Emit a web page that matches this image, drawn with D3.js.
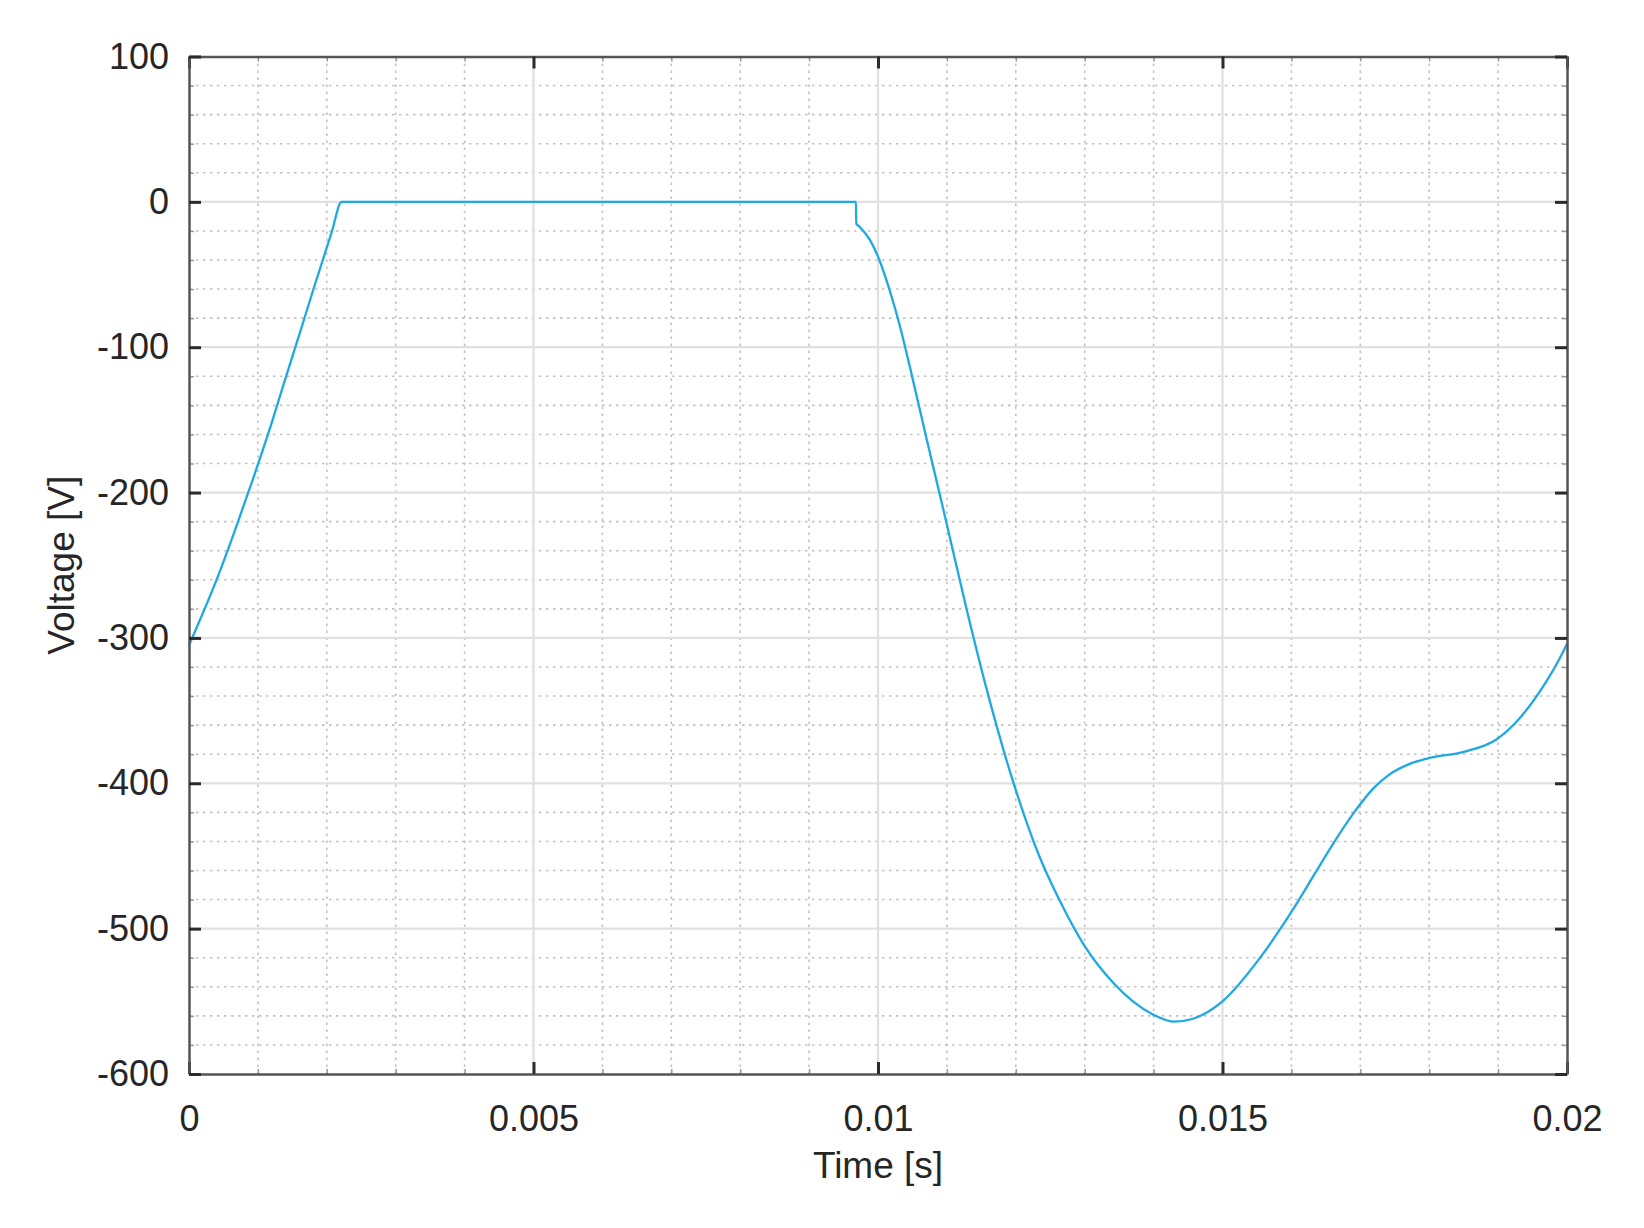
<!DOCTYPE html>
<html>
<head>
<meta charset="utf-8">
<script src="https://cdn.jsdelivr.net/npm/d3@7"></script>
<style>
  body { margin: 0; background: #fff; }
  text { font-family: "Liberation Sans", Arial, Helvetica, sans-serif; fill: #262626; }
  .grid-major line { stroke: #e0e0e0; stroke-width: 2.2; }
  .grid-minor line { stroke: #c2c2c2; stroke-width: 1.6; stroke-dasharray: 2.5,4.5; }
  .axis .domain { stroke: #555; stroke-width: 2.5; }
  .axis .tick line { stroke: #2b2b2b; stroke-width: 3; }
  .minor-ticks .tick line { stroke: #9a9a9a; stroke-width: 1.5; }
  .minor-ticks .domain { display: none; }
</style>
</head>
<body>
<script>
// time [s] and voltage [V]
const time = [
  0, 0.000425, 0.000667, 0.000933, 0.0012, 0.00139, 0.00161, 0.0018, 0.00207, 0.002215,
  0.00968, 0.009685, 0.00973, 0.00988, 0.01002, 0.01017, 0.01031, 0.01046, 0.0107, 0.01096,
  0.01128, 0.01157, 0.011955, 0.01234, 0.01263, 0.013, 0.01341, 0.0137, 0.01399, 0.0143,
  0.01457, 0.015, 0.01553, 0.01587, 0.01606, 0.016355, 0.0166, 0.01691, 0.0172, 0.01742,
  0.0177, 0.01797, 0.01853, 0.01897, 0.01926, 0.01959, 0.01996, 0.02
];
const voltage = [
  -305, -257, -226, -190, -152, -123, -90, -61, -21, 0,
  0, -15, -17, -26, -40, -61, -84, -113, -162, -214,
  -279, -334, -398, -450, -480, -512, -537, -550, -559, -564,
  -562, -550, -521, -498, -484, -461, -442, -420, -403, -394,
  -387, -383, -378, -370, -358, -338, -308, -304
];

const xTicks = [0, 0.005, 0.01, 0.015, 0.02];
const xTickLabels = ["0", "0.005", "0.01", "0.015", "0.02"];
const yTicks = [-600, -500, -400, -300, -200, -100, 0, 100];
const xMinorStep = 0.001;
const yMinorStep = 20;

const [width, height] = [1644, 1228];
const margin = { top: 56.5, right: 77, bottom: 154, left: 189 };
const innerW = width - margin.left - margin.right;
const innerH = height - margin.top - margin.bottom;

const x = d3.scaleLinear().domain([0, 0.02]).range([0, innerW]);
const y = d3.scaleLinear().domain([-600, 100]).range([innerH, 0]);

const xMinor = d3.range(0, 0.02 + 1e-9, xMinorStep).filter(
  t => !xTicks.some(m => Math.abs(m - t) < 1e-9)
);
const yMinor = d3.range(-600, 100 + 1e-9, yMinorStep).filter(
  v => yTicks.indexOf(Math.round(v)) === -1
);

const svg = d3
  .select("body")
  .append("svg")
  .attr("width", width)
  .attr("height", height);

const g = svg
  .append("g")
  .attr("transform", `translate(${margin.left},${margin.top})`);

// grid
const minor = g.append("g").classed("grid-minor", true);
minor
  .selectAll(".vx")
  .data(xMinor)
  .enter()
  .append("line")
  .attr("x1", d => x(d))
  .attr("x2", d => x(d))
  .attr("y1", 0)
  .attr("y2", innerH);
minor
  .selectAll(".hy")
  .data(yMinor)
  .enter()
  .append("line")
  .attr("x1", 0)
  .attr("x2", innerW)
  .attr("y1", d => y(d))
  .attr("y2", d => y(d));

const major = g.append("g").classed("grid-major", true);
major
  .selectAll(".vx")
  .data(xTicks.slice(1, -1))
  .enter()
  .append("line")
  .attr("x1", d => x(d))
  .attr("x2", d => x(d))
  .attr("y1", 0)
  .attr("y2", innerH);
major
  .selectAll(".hy")
  .data(yTicks.slice(1, -1))
  .enter()
  .append("line")
  .attr("x1", 0)
  .attr("x2", innerW)
  .attr("y1", d => y(d))
  .attr("y2", d => y(d));

// minor ticks, all four sides
const minorTick = 5;
g.append("g").classed("minor-ticks", true)
  .attr("transform", `translate(0,${innerH})`)
  .call(d3.axisBottom(x).tickValues(xMinor).tickSize(-minorTick).tickFormat(""));
g.append("g").classed("minor-ticks", true)
  .call(d3.axisTop(x).tickValues(xMinor).tickSize(-minorTick).tickFormat(""));
g.append("g").classed("minor-ticks", true)
  .call(d3.axisLeft(y).tickValues(yMinor).tickSize(-minorTick).tickFormat(""));
g.append("g").classed("minor-ticks", true)
  .attr("transform", `translate(${innerW},0)`)
  .call(d3.axisRight(y).tickValues(yMinor).tickSize(-minorTick).tickFormat(""));

// the curve
const line = d3
  .line()
  .x(d => x(d[0]))
  .y(d => y(d[1]))
  .curve(d3.curveMonotoneX);

g.append("path")
  .datum(d3.zip(time, voltage))
  .attr("fill", "none")
  .attr("stroke", "#1ea9e3")
  .attr("stroke-width", 2.3)
  .attr("stroke-linejoin", "round")
  .attr("d", line);

// box axes
const tick = 12;
const xAxis = g
  .append("g")
  .classed("axis", true)
  .attr("transform", `translate(0,${innerH})`)
  .call(
    d3.axisBottom(x)
      .tickValues(xTicks)
      .tickFormat((d, i) => xTickLabels[i])
      .tickSize(-tick)
      .tickSizeOuter(0)
      .tickPadding(31)
  );
xAxis.selectAll("text").style("font-size", "36px");

g.append("g")
  .classed("axis", true)
  .call(d3.axisTop(x).tickValues(xTicks).tickSize(-tick).tickSizeOuter(0).tickFormat(""));

const yAxis = g
  .append("g")
  .classed("axis", true)
  .call(
    d3.axisLeft(y)
      .tickValues(yTicks)
      .tickFormat(d => String(d))
      .tickSize(-tick)
      .tickSizeOuter(0)
      .tickPadding(20)
  );
yAxis.selectAll("text").style("font-size", "36px");

g.append("g")
  .classed("axis", true)
  .attr("transform", `translate(${innerW},0)`)
  .call(d3.axisRight(y).tickValues(yTicks).tickSize(-tick).tickSizeOuter(0).tickFormat(""));

// labels
g.append("text")
  .attr("x", innerW / 2)
  .attr("y", innerH + 104)
  .attr("text-anchor", "middle")
  .style("font-size", "37px")
  .text("Time [s]");

g.append("text")
  .attr("transform", `translate(${61 - margin.left},${innerH / 2}) rotate(-90)`)
  .attr("text-anchor", "middle")
  .attr("dy", "0.35em")
  .style("font-size", "37px")
  .text("Voltage [V]");
</script>
</body>
</html>
